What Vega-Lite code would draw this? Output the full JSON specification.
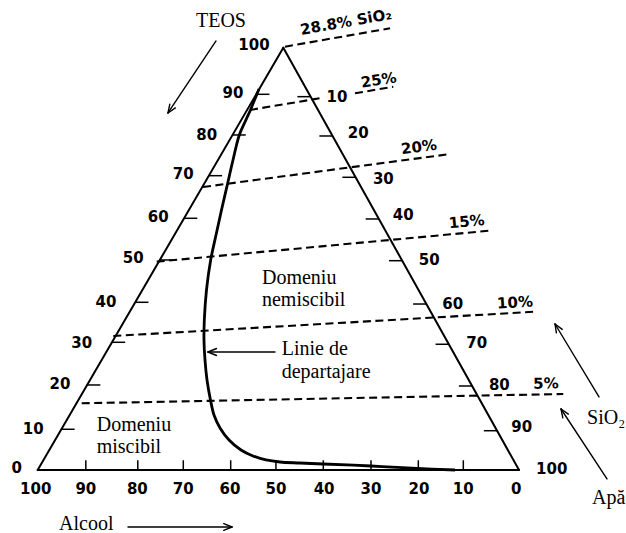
{
  "$schema": "https://vega.github.io/schema/vega-lite/v6.json",
  "width": 626,
  "height": 533,
  "padding": 0,
  "autosize": {"type": "none"},
  "background": "white",
  "config": {"view": {"stroke": null}},
  "encoding": {
    "x": {"field": "x", "type": "quantitative", "scale": {"domain": [-22.23, 107.83], "reverse": true, "nice": false, "zero": false}, "axis": null},
    "y": {"field": "y", "type": "quantitative", "scale": {"domain": [-14.92, 111.29], "nice": false, "zero": false}, "axis": null}
  },
  "layer": [
    {
      "description": "SiO2 iso-concentration lines",
      "data": {"values": [
        {"line": "28.8%", "x": 48.62, "y": 100.24, "x2": 26.8, "y2": 104.59},
        {"line": "25%", "x": 55.89, "y": 85.25, "x2": 40.72, "y2": 88.16},
        {"line": "25%", "x": 34.07, "y": 89.2, "x2": 26.12, "y2": 90.76},
        {"line": "20%", "x": 65.65, "y": 67.01, "x2": 14.69, "y2": 74.76},
        {"line": "15%", "x": 75.27, "y": 49.33, "x2": 6.03, "y2": 56.67},
        {"line": "10%", "x": 84.29, "y": 31.73, "x2": -3.32, "y2": 37.48},
        {"line": "5%", "x": 90.86, "y": 15.79, "x2": -9.2, "y2": 18.0}
      ]},
      "mark": {"type": "rule", "color": "black", "strokeWidth": 2.1, "strokeDash": [8, 4.5]},
      "encoding": {"x2": {"field": "x2"}, "y2": {"field": "y2"}}
    },
    {
      "description": "triangle frame",
      "data": {"values": [
        {"edge": "left", "x": 100, "y": 0, "x2": 48.97, "y2": 100},
        {"edge": "right", "x": 48.97, "y": 100, "x2": 0, "y2": 0},
        {"edge": "base", "x": 100, "y": 0, "x2": 0, "y2": 0}
      ]},
      "mark": {"type": "rule", "color": "black", "strokeWidth": 2, "strokeCap": "round"},
      "encoding": {"x2": {"field": "x2"}, "y2": {"field": "y2"}}
    },
    {
      "description": "tick marks on the three sides",
      "data": {"values": [
        {"side": "TEOS", "v": 90, "x": 54.6, "y": 88.96, "x2": 51.85, "y2": 88.96},
        {"side": "TEOS", "v": 80, "x": 59.52, "y": 79.33, "x2": 56.77, "y2": 79.33},
        {"side": "TEOS", "v": 70, "x": 64.44, "y": 69.69, "x2": 61.69, "y2": 69.69},
        {"side": "TEOS", "v": 60, "x": 69.59, "y": 59.6, "x2": 66.84, "y2": 59.6},
        {"side": "TEOS", "v": 50, "x": 74.62, "y": 49.73, "x2": 71.87, "y2": 49.73},
        {"side": "TEOS", "v": 40, "x": 79.74, "y": 39.71, "x2": 76.99, "y2": 39.71},
        {"side": "TEOS", "v": 30, "x": 84.57, "y": 30.24, "x2": 81.82, "y2": 30.24},
        {"side": "TEOS", "v": 20, "x": 89.73, "y": 20.13, "x2": 86.98, "y2": 20.13},
        {"side": "TEOS", "v": 10, "x": 95.08, "y": 9.64, "x2": 92.33, "y2": 9.64},
        {"side": "SiO2", "v": 10, "x": 43.29, "y": 88.4, "x2": 46.04, "y2": 88.4},
        {"side": "SiO2", "v": 20, "x": 38.73, "y": 79.09, "x2": 41.48, "y2": 79.09},
        {"side": "SiO2", "v": 30, "x": 33.94, "y": 69.31, "x2": 36.69, "y2": 69.31},
        {"side": "SiO2", "v": 40, "x": 29.11, "y": 59.44, "x2": 31.86, "y2": 59.44},
        {"side": "SiO2", "v": 50, "x": 24.27, "y": 49.56, "x2": 27.02, "y2": 49.56},
        {"side": "SiO2", "v": 60, "x": 19.25, "y": 39.3, "x2": 22.0, "y2": 39.3},
        {"side": "SiO2", "v": 70, "x": 14.58, "y": 29.77, "x2": 17.33, "y2": 29.77},
        {"side": "SiO2", "v": 80, "x": 9.74, "y": 19.89, "x2": 12.49, "y2": 19.89},
        {"side": "SiO2", "v": 90, "x": 4.55, "y": 9.3, "x2": 7.3, "y2": 9.3},
        {"side": "Alcool", "v": 90, "x": 90.0, "y": 0, "x2": 90.0, "y2": 2.3},
        {"side": "Alcool", "v": 80, "x": 79.2, "y": 0, "x2": 79.2, "y2": 2.3},
        {"side": "Alcool", "v": 70, "x": 69.75, "y": 0, "x2": 69.75, "y2": 2.3},
        {"side": "Alcool", "v": 60, "x": 59.9, "y": 0, "x2": 59.9, "y2": 2.3},
        {"side": "Alcool", "v": 50, "x": 50.5, "y": 0, "x2": 50.5, "y2": 2.3},
        {"side": "Alcool", "v": 40, "x": 40.66, "y": 0, "x2": 40.66, "y2": 2.3},
        {"side": "Alcool", "v": 30, "x": 30.75, "y": 0, "x2": 30.75, "y2": 2.3},
        {"side": "Alcool", "v": 20, "x": 20.92, "y": 0, "x2": 20.92, "y2": 2.3},
        {"side": "Alcool", "v": 10, "x": 11.57, "y": 0, "x2": 11.57, "y2": 2.3}
      ]},
      "mark": {"type": "rule", "color": "black", "strokeWidth": 1.5},
      "encoding": {"x2": {"field": "x2"}, "y2": {"field": "y2"}}
    },
    {
      "description": "arrows: shafts and open heads",
      "data": {"values": [
        {"arrow": "TEOS", "x": 62.95, "y": 101.59, "x2": 72.93, "y2": 84.54},
        {"arrow": "TEOS", "x": 72.93, "y": 84.54, "x2": 71.39, "y2": 85.74},
        {"arrow": "TEOS", "x": 72.93, "y": 84.54, "x2": 72.55, "y2": 86.62},
        {"arrow": "Alcool", "x": 81.24, "y": -13.5, "x2": 59.63, "y2": -13.5},
        {"arrow": "Alcool", "x": 59.63, "y": -13.5, "x2": 61.35, "y2": -12.69},
        {"arrow": "Alcool", "x": 59.63, "y": -13.5, "x2": 61.35, "y2": -14.3},
        {"arrow": "SiO2", "x": -16.62, "y": 17.29, "x2": -7.48, "y2": 34.57},
        {"arrow": "SiO2", "x": -7.48, "y": 34.57, "x2": -7.77, "y2": 32.46},
        {"arrow": "SiO2", "x": -7.48, "y": 34.57, "x2": -8.98, "y2": 33.29},
        {"arrow": "Apa", "x": -18.28, "y": -2.13, "x2": -8.73, "y2": 14.44},
        {"arrow": "Apa", "x": -8.73, "y": 14.44, "x2": -9.1, "y2": 12.36},
        {"arrow": "Apa", "x": -8.73, "y": 14.44, "x2": -10.26, "y2": 13.24},
        {"arrow": "Linie", "x": 50.7, "y": 27.94, "x2": 64.62, "y2": 27.94},
        {"arrow": "Linie", "x": 64.62, "y": 27.94, "x2": 62.85, "y2": 28.77},
        {"arrow": "Linie", "x": 64.62, "y": 27.94, "x2": 62.85, "y2": 27.11}
      ]},
      "mark": {"type": "rule", "color": "black", "strokeWidth": 1.4, "strokeCap": "round"},
      "encoding": {"x2": {"field": "x2"}, "y2": {"field": "y2"}}
    },
    {
      "description": "miscibility boundary (linie de departajare)",
      "data": {"values": [
        {"i": 1, "x": 54.02, "y": 90.22},
        {"i": 2, "x": 54.95, "y": 87.62},
        {"i": 3, "x": 55.79, "y": 85.25},
        {"i": 4, "x": 56.93, "y": 82.41},
        {"i": 5, "x": 58.11, "y": 79.33},
        {"i": 6, "x": 59.42, "y": 73.41},
        {"i": 7, "x": 60.61, "y": 67.49},
        {"i": 8, "x": 61.81, "y": 61.57},
        {"i": 9, "x": 62.95, "y": 55.65},
        {"i": 10, "x": 64.06, "y": 49.73},
        {"i": 11, "x": 64.93, "y": 42.62},
        {"i": 12, "x": 65.38, "y": 35.52},
        {"i": 13, "x": 65.45, "y": 30.78},
        {"i": 14, "x": 65.24, "y": 26.05},
        {"i": 15, "x": 64.82, "y": 21.31},
        {"i": 16, "x": 64.1, "y": 16.58},
        {"i": 17, "x": 63.37, "y": 13.02},
        {"i": 18, "x": 62.12, "y": 9.95},
        {"i": 19, "x": 60.25, "y": 7.1},
        {"i": 20, "x": 57.76, "y": 4.74},
        {"i": 21, "x": 55.27, "y": 3.32},
        {"i": 22, "x": 52.57, "y": 2.37},
        {"i": 23, "x": 49.66, "y": 1.89},
        {"i": 24, "x": 45.5, "y": 1.66},
        {"i": 25, "x": 40.72, "y": 1.42},
        {"i": 26, "x": 30.75, "y": 0.95},
        {"i": 27, "x": 21.19, "y": 0.36},
        {"i": 28, "x": 13.3, "y": 0}
      ]},
      "mark": {"type": "line", "color": "black", "strokeWidth": 2.8, "interpolate": "catmull-rom"},
      "encoding": {"order": {"field": "i", "type": "quantitative"}}
    },
    {
      "description": "scale numbers on the three sides",
      "data": {"values": [
        {"text": "100", "x": 55.06, "y": 100.64},
        {"text": "90", "x": 59.42, "y": 89.2},
        {"text": "80", "x": 64.89, "y": 79.33},
        {"text": "70", "x": 69.75, "y": 70.09},
        {"text": "60", "x": 74.94, "y": 59.98},
        {"text": "50", "x": 80.14, "y": 50.27},
        {"text": "40", "x": 85.81, "y": 39.71},
        {"text": "30", "x": 90.86, "y": 30.14},
        {"text": "20", "x": 95.37, "y": 20.36},
        {"text": "10", "x": 100.91, "y": 9.64},
        {"text": "0", "x": 104.36, "y": 0.54},
        {"text": "10", "x": 37.81, "y": 88.4},
        {"text": "20", "x": 33.39, "y": 79.73},
        {"text": "30", "x": 28.19, "y": 68.91},
        {"text": "40", "x": 24.04, "y": 60.38},
        {"text": "50", "x": 18.64, "y": 49.73},
        {"text": "60", "x": 13.78, "y": 39.31},
        {"text": "70", "x": 8.79, "y": 30.0},
        {"text": "80", "x": 4.09, "y": 20.13},
        {"text": "90", "x": -0.56, "y": 10.11},
        {"text": "100", "x": -6.79, "y": 0.17},
        {"text": "100", "x": 100.4, "y": -4.57},
        {"text": "90", "x": 90.0, "y": -4.57},
        {"text": "80", "x": 79.3, "y": -4.57},
        {"text": "70", "x": 69.75, "y": -4.57},
        {"text": "60", "x": 60.05, "y": -4.57},
        {"text": "50", "x": 50.5, "y": -4.57},
        {"text": "40", "x": 40.5, "y": -4.57},
        {"text": "30", "x": 30.75, "y": -4.57},
        {"text": "20", "x": 20.8, "y": -4.57},
        {"text": "10", "x": 11.6, "y": -4.57},
        {"text": "0", "x": 0.6, "y": -4.57}
      ]},
      "mark": {"type": "text", "font": "DejaVu Sans", "fontWeight": "bold", "fontSize": 15, "align": "center", "baseline": "middle", "color": "black"},
      "encoding": {"text": {"field": "text"}}
    },
    {
      "description": "region names and component labels",
      "data": {"values": [
        {"text": "TEOS", "x": 67.11, "y": 106.39},
        {"text": "Domeniu", "x": 53.4, "y": 45.39},
        {"text": "nemiscibil", "x": 53.4, "y": 40.26},
        {"text": "Linie de", "x": 49.3, "y": 28.58},
        {"text": "departajare", "x": 49.3, "y": 23.28},
        {"text": "Domeniu", "x": 87.74, "y": 10.66},
        {"text": "miscibil", "x": 87.74, "y": 5.52},
        {"text": "Alcool", "x": 95.57, "y": -12.79},
        {"text": "SiO₂", "x": -14.13, "y": 12.24},
        {"text": "Apă", "x": -15.17, "y": -6.7}
      ]},
      "mark": {"type": "text", "font": "Liberation Serif", "fontSize": 20, "align": "left", "baseline": "middle", "color": "black"},
      "encoding": {"text": {"field": "text"}}
    },
    {
      "data": {"values": [{"text": "28.8% SiO₂", "x": 35.94, "y": 106.09}]},
      "mark": {"type": "text", "font": "DejaVu Sans", "fontWeight": "bold", "fontSize": 15, "align": "center", "baseline": "middle", "angle": -10, "color": "black"},
      "encoding": {"text": {"field": "text"}}
    },
    {
      "data": {"values": [{"text": "25%", "x": 29.15, "y": 92.35}]},
      "mark": {"type": "text", "font": "DejaVu Sans", "fontWeight": "bold", "fontSize": 15, "align": "center", "baseline": "middle", "angle": -8.7, "color": "black"},
      "encoding": {"text": {"field": "text"}}
    },
    {
      "data": {"values": [{"text": "20%", "x": 20.78, "y": 76.49}]},
      "mark": {"type": "text", "font": "DejaVu Sans", "fontWeight": "bold", "fontSize": 15, "align": "center", "baseline": "middle", "angle": -7.7, "color": "black"},
      "encoding": {"text": {"field": "text"}}
    },
    {
      "data": {"values": [{"text": "15%", "x": 10.87, "y": 58.84}]},
      "mark": {"type": "text", "font": "DejaVu Sans", "fontWeight": "bold", "fontSize": 15, "align": "center", "baseline": "middle", "angle": -5.3, "color": "black"},
      "encoding": {"text": {"field": "text"}}
    },
    {
      "data": {"values": [{"text": "10%", "x": 0.83, "y": 39.66}]},
      "mark": {"type": "text", "font": "DejaVu Sans", "fontWeight": "bold", "fontSize": 15, "align": "center", "baseline": "middle", "angle": -3.3, "color": "black"},
      "encoding": {"text": {"field": "text"}}
    },
    {
      "data": {"values": [{"text": "5%", "x": -5.61, "y": 20.48}]},
      "mark": {"type": "text", "font": "DejaVu Sans", "fontWeight": "bold", "fontSize": 15, "align": "center", "baseline": "middle", "angle": -1.1, "color": "black"},
      "encoding": {"text": {"field": "text"}}
    }
  ]
}
